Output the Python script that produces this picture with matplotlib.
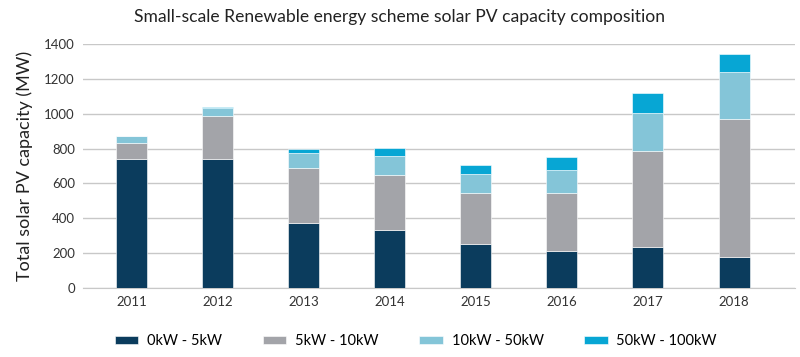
import numpy as np
import matplotlib.pyplot as plt

plt.rcParams['font.family'] = ['Lato', 'DejaVu Sans']

years = ["2011", "2012", "2013", "2014", "2015", "2016", "2017", "2018"]
kw_0_5 = [740, 740, 373, 335, 254, 214, 233, 180]
kw_5_10 = [92, 248, 315, 315, 289, 329, 555, 787]
kw_10_50 = [42, 42, 84, 107, 113, 134, 214, 274]
kw_50_100 = [0, 8, 23, 44, 51, 73, 117, 99]

series = [kw_0_5, kw_5_10, kw_10_50, kw_50_100]
labels = ["0kW - 5kW", "5kW - 10kW", "10kW - 50kW", "50kW - 100kW"]
colors = ["#0b3c5d", "#a3a4a9", "#84c5d8", "#07a6d4"]

fig = plt.figure(figsize=(8, 3.57), dpi=100)
ax = fig.add_axes([0.104, 0.193, 0.89, 0.684])

x = np.arange(len(years))
bottom = np.zeros(len(years))
for vals, lab, col in zip(series, labels, colors):
    ax.bar(x, vals, width=0.36, bottom=bottom, color=col, label=lab,
           edgecolor="white", linewidth=0.4, zorder=3)
    bottom += np.array(vals)

ax.set_xlim(-0.56, 7.71)
ax.set_ylim(0, 1400)
ax.set_yticks(range(0, 1401, 200))
ax.set_xticks(x)
ax.set_xticklabels(years)
ax.grid(axis="y", color="#c8c8c8", linewidth=1, zorder=0)
for s in ["top", "right", "left"]:
    ax.spines[s].set_visible(False)
ax.spines["bottom"].set_color("#c8c8c8")
ax.tick_params(length=0, labelsize=9.5, colors="#333333", pad=6)
ax.set_ylabel("Total solar PV capacity (MW)", fontsize=13, color="#222222", labelpad=8)

fig.suptitle("Small-scale Renewable energy scheme solar PV capacity composition",
             x=0.5, y=0.975, fontsize=12.6, color="#222222")

fig.legend(loc="center", bbox_to_anchor=(0.52, 0.045), ncol=4, frameon=False,
           fontsize=10.5, handlelength=1.6, handleheight=0.5, columnspacing=2.8,
           handletextpad=0.6)

fig.savefig("out.png", dpi=100)
